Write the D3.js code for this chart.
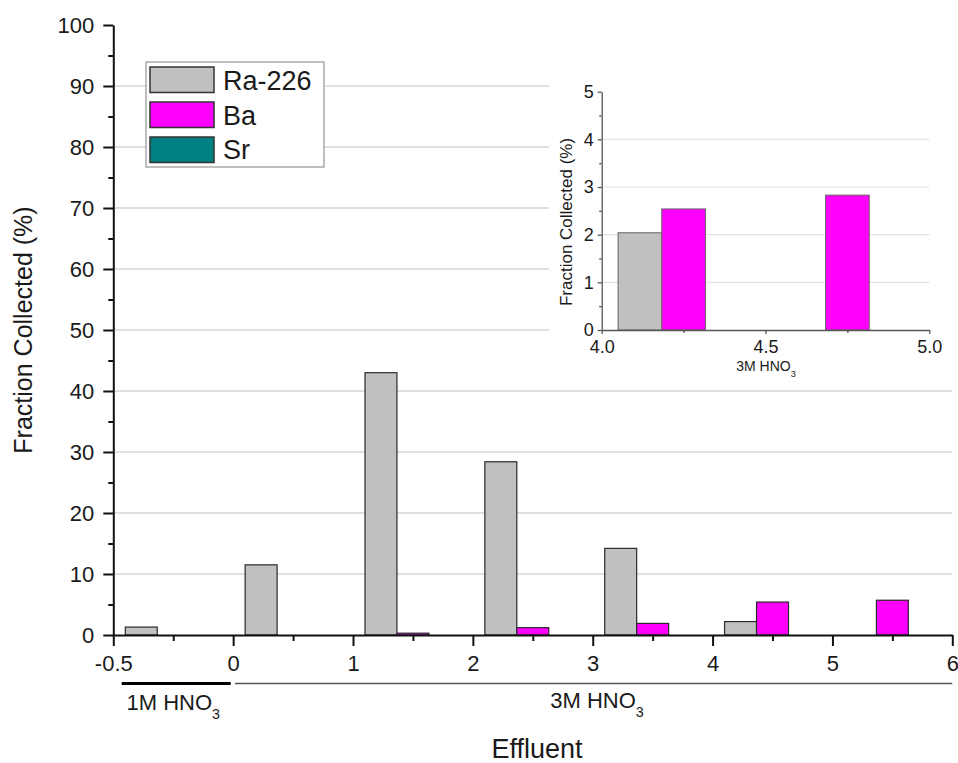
<!DOCTYPE html>
<html><head><meta charset="utf-8">
<script src="https://cdn.jsdelivr.net/npm/d3@7"></script>
<style>
body{margin:0;background:#fff}
text{font-family:"Liberation Sans",Arial,Helvetica,sans-serif;fill:#1a1a1a}
</style>
</head><body>
<svg id="chart" width="958" height="763"></svg>
<script>
// ---------- data ----------
const groups = [-1, 0, 1, 2, 3, 4, 5];
const seriesNames = ["Ra-226", "Ba", "Sr"];
const raValues = [1.3, 11.5, 43.0, 28.4, 14.2, 2.2, 0];
const baValues = [0, 0, 0.3, 1.2, 1.9, 5.4, 5.7];
const srValues = [0, 0, 0, 0, 0, 0, 0];
const xTickValues = [-1, 0, 1, 2, 3, 4, 5, 6];
const xTickLabels = ["-0.5", "0", "1", "2", "3", "4", "5", "6"];
const yTickValues = [0, 10, 20, 30, 40, 50, 60, 70, 80, 90, 100];

const insetGroups = [4.25, 4.75];
const insetRa = [2.04, 0];
const insetBa = [2.54, 2.83];
const insetSr = [0, 0];
const insetXTicks = [4.0, 4.5, 5.0];
const insetYTicks = [0, 1, 2, 3, 4, 5];

const colors = {"Ra-226": "#c0c0c0", "Ba": "#ff00ff", "Sr": "#008080"};

// ---------- setup ----------
const svg = d3.select("#chart");
svg.append("rect").attr("width", 958).attr("height", 763).attr("fill", "#fff");

const x = d3.scaleLinear().domain([-1, 6]).range([113.3, 952.3]);
const y = d3.scaleLinear().domain([0, 100]).range([635, 25]);
const sub = d3.scaleBand().domain(seriesNames).range([0.1, 0.9]);

const mainData = [raValues, baValues, srValues];

// gridlines
svg.append("g").selectAll("line").data(yTickValues.filter(v => v > 0 && v < 100)).join("line")
  .attr("x1", x(-1)).attr("x2", x(6))
  .attr("y1", d => y(d)).attr("y2", d => y(d))
  .attr("stroke", "#d6d6d6").attr("stroke-width", 1.5);

// bars
const barData = [];
seriesNames.forEach((s, si) => {
  groups.forEach((g, gi) => {
    const v = mainData[si][gi];
    if (v > 0) barData.push({s, g, v});
  });
});
svg.append("g").selectAll("rect").data(barData).join("rect")
  .attr("x", d => x(d.g + sub(d.s)))
  .attr("width", d => x(d.g + sub(d.s) + sub.bandwidth()) - x(d.g + sub(d.s)))
  .attr("y", d => y(d.v))
  .attr("height", d => y(0) - y(d.v))
  .attr("fill", d => colors[d.s])
  .attr("stroke", "#2a2a2a").attr("stroke-width", 1.2);

// y axis
const yAxis = svg.append("g").attr("transform", `translate(${x(-1)},0)`)
  .call(d3.axisLeft(y).tickValues(yTickValues).tickSize(10).tickPadding(9).tickSizeOuter(0));
yAxis.select(".domain").attr("stroke", "#111").attr("stroke-width", 2);
yAxis.selectAll(".tick line").attr("stroke", "#111").attr("stroke-width", 2);
yAxis.selectAll(".tick text").attr("font-size", 22).attr("font-family", "Liberation Sans, Arial, sans-serif").attr("fill", "#1a1a1a");
svg.append("g").attr("transform", `translate(${x(-1)},0)`)
  .call(d3.axisLeft(y).tickValues(d3.range(5, 100, 10)).tickSize(5).tickFormat(""))
  .call(g => g.select(".domain").remove())
  .selectAll(".tick line").attr("stroke", "#111").attr("stroke-width", 2);

// x axis
const xAxis = svg.append("g").attr("transform", `translate(0,${y(0)})`)
  .call(d3.axisBottom(x).tickValues(xTickValues).tickSize(11).tickPadding(9).tickSizeOuter(0)
    .tickFormat((d, i) => xTickLabels[i]));
xAxis.select(".domain").attr("stroke", "#111").attr("stroke-width", 2);
xAxis.selectAll(".tick line").attr("stroke", "#111").attr("stroke-width", 2);
xAxis.selectAll(".tick text").attr("font-size", 22).attr("font-family", "Liberation Sans, Arial, sans-serif").attr("fill", "#1a1a1a");
svg.append("g").attr("transform", `translate(0,${y(0)})`)
  .call(d3.axisBottom(x).tickValues(d3.range(-0.5, 6, 1)).tickSize(6).tickFormat(""))
  .call(g => g.select(".domain").remove())
  .selectAll(".tick line").attr("stroke", "#111").attr("stroke-width", 2);

// axis titles
svg.append("text").attr("transform", "translate(32,330) rotate(-90)")
  .attr("text-anchor", "middle").attr("font-size", 25).text("Fraction Collected (%)");
svg.append("text").attr("x", 537).attr("y", 758)
  .attr("text-anchor", "middle").attr("font-size", 27).text("Effluent");

// eluent annotations below axis
svg.append("line").attr("x1", 121.7).attr("x2", 230.7).attr("y1", 683.5).attr("y2", 683.5)
  .attr("stroke", "#000").attr("stroke-width", 3.2);
svg.append("line").attr("x1", 235).attr("x2", x(6)).attr("y1", 683.5).attr("y2", 683.5)
  .attr("stroke", "#555").attr("stroke-width", 1.5);

function hno3(xPos, yPos, fs, anchor, prefix) {
  const t = svg.append("text").attr("x", xPos).attr("y", yPos)
    .attr("font-size", fs).attr("text-anchor", anchor).attr("fill", "#222");
  t.append("tspan").text(prefix + " HNO");
  t.append("tspan").attr("font-size", fs * 0.65).attr("dy", fs * 0.42).text("3");
  return t;
}
hno3(126.5, 710, 22, "start", "1M");
hno3(597, 708, 22, "middle", "3M");

// legend
const leg = svg.append("g");
leg.append("rect").attr("x", 146).attr("y", 62).attr("width", 178).attr("height", 105)
  .attr("fill", "#fff").attr("stroke", "#aaa").attr("stroke-width", 1.5);
seriesNames.forEach((s, i) => {
  leg.append("rect").attr("x", 150).attr("y", 67 + i * 35).attr("width", 64).attr("height", 25.5)
    .attr("fill", colors[s]).attr("stroke", "#333").attr("stroke-width", 1.5);
  leg.append("text").attr("x", 223).attr("y", 90 + i * 34.7).attr("font-size", 27).text(s);
});

// ---------- inset ----------
svg.append("rect").attr("x", 549).attr("y", 72).attr("width", 409).attr("height", 312).attr("fill", "#fff");

const xi = d3.scaleLinear().domain([4, 5]).range([601.7, 929.3]);
const yi = d3.scaleLinear().domain([0, 5]).range([330, 91.7]);
const subi = d3.scaleBand().domain(seriesNames).range([-0.2, 0.2]);
const insetData = [insetRa, insetBa, insetSr];

svg.append("g").selectAll("line").data(insetYTicks.filter(v => v > 0 && v < 5)).join("line")
  .attr("x1", xi(4)).attr("x2", xi(5))
  .attr("y1", d => yi(d)).attr("y2", d => yi(d))
  .attr("stroke", "#e2e2e2").attr("stroke-width", 1.2);

const insetBars = [];
seriesNames.forEach((s, si) => {
  insetGroups.forEach((g, gi) => {
    const v = insetData[si][gi];
    if (v > 0) insetBars.push({s, g, v});
  });
});
svg.append("g").selectAll("rect").data(insetBars).join("rect")
  .attr("x", d => xi(d.g + subi(d.s)))
  .attr("width", d => xi(d.g + subi(d.s) + subi.bandwidth()) - xi(d.g + subi(d.s)))
  .attr("y", d => yi(d.v))
  .attr("height", d => yi(0) - yi(d.v))
  .attr("fill", d => colors[d.s])
  .attr("stroke", "#666").attr("stroke-width", 1);

const yAi = svg.append("g").attr("transform", `translate(${xi(4)},0)`)
  .call(d3.axisLeft(yi).tickValues(insetYTicks).tickSize(4).tickPadding(4).tickSizeOuter(0).tickFormat(d3.format("d")));
yAi.select(".domain").attr("stroke", "#555").attr("stroke-width", 1.3);
yAi.selectAll(".tick line").attr("stroke", "#555").attr("stroke-width", 1.3);
yAi.selectAll(".tick text").attr("font-size", 18).attr("font-family", "Liberation Sans, Arial, sans-serif").attr("fill", "#1a1a1a");
svg.append("g").attr("transform", `translate(${xi(4)},0)`)
  .call(d3.axisLeft(yi).tickValues(d3.range(0.5, 5, 1)).tickSize(2.5).tickFormat(""))
  .call(g => g.select(".domain").remove())
  .selectAll(".tick line").attr("stroke", "#555").attr("stroke-width", 1.3);

const xAi = svg.append("g").attr("transform", `translate(0,${yi(0)})`)
  .call(d3.axisBottom(xi).tickValues(insetXTicks).tickSize(4).tickPadding(6).tickSizeOuter(0).tickFormat(d3.format(".1f")));
xAi.select(".domain").attr("stroke", "#555").attr("stroke-width", 1.3);
xAi.selectAll(".tick line").attr("stroke", "#555").attr("stroke-width", 1.3);
xAi.selectAll(".tick text").attr("font-size", 18).attr("font-family", "Liberation Sans, Arial, sans-serif").attr("fill", "#1a1a1a");
svg.append("g").attr("transform", `translate(0,${yi(0)})`)
  .call(d3.axisBottom(xi).tickValues([4.25, 4.75]).tickSize(3).tickFormat(""))
  .call(g => g.select(".domain").remove())
  .selectAll(".tick line").attr("stroke", "#555").attr("stroke-width", 1.3);

svg.append("text").attr("transform", "translate(572,222) rotate(-90)")
  .attr("text-anchor", "middle").attr("font-size", 17).text("Fraction Collected (%)");
hno3(766, 371, 14, "middle", "3M");
</script>
</body></html>
